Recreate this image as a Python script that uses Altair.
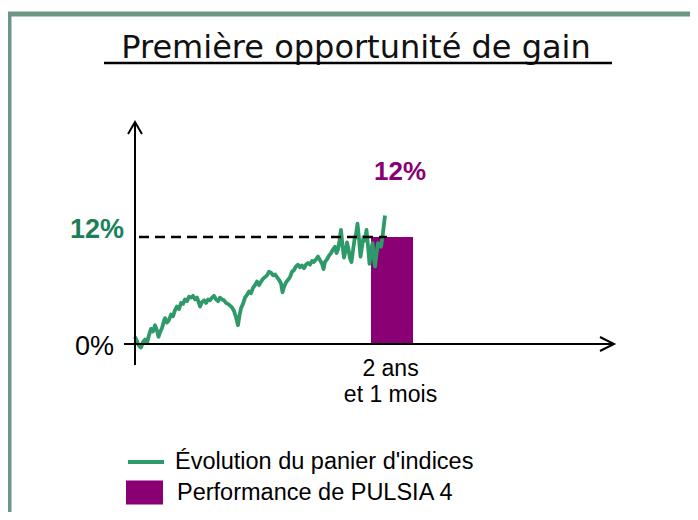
import altair as alt
import pandas as pd

# ---------------- data ----------------
title_text = "Première opportunité de gain"
series_name = "Évolution du panier d'indices"
bar_name = "Performance de PULSIA 4"

months = [0.0, 0.2, 0.4, 0.6, 0.8, 1.0, 1.2, 1.4, 1.6, 1.8, 2.0, 2.2, 2.35, 2.5, 2.7, 2.9,
          3.0, 3.2, 3.4, 3.6, 3.8, 4.0, 4.2, 4.4, 4.6, 4.8, 5.0, 5.2, 5.4, 5.6, 5.8, 6.0,
          6.2, 6.4, 6.5, 6.7, 6.9, 7.1, 7.3, 7.5, 7.7, 7.9, 8.1, 8.3, 8.5, 8.7, 8.9, 9.1,
          9.3, 9.5, 9.7, 9.9, 10.1, 10.3, 10.45, 10.6, 10.8, 11.0, 11.2, 11.4, 11.6, 11.8,
          12.0, 12.2, 12.4, 12.6, 12.8, 13.0, 13.2, 13.4, 13.6, 13.8, 14.0, 14.2, 14.4,
          14.6, 14.75, 14.9, 15.1, 15.3, 15.5, 15.7, 15.9, 16.1, 16.3, 16.5, 16.7, 16.9,
          17.1, 17.3, 17.5, 17.7, 17.9, 18.1, 18.3, 18.5, 18.7, 18.85, 19.0, 19.2, 19.4,
          19.6, 19.8, 20.0, 20.15, 20.3, 20.45, 20.6, 20.75, 20.9, 21.05, 21.2, 21.35,
          21.5, 21.65, 21.8, 21.95, 22.1, 22.25, 22.4, 22.55, 22.7, 22.85, 23.0, 23.15,
          23.3, 23.45, 23.6, 23.75, 23.9, 24.0, 24.15, 24.3, 24.45, 24.6, 24.75, 24.85, 25.0]
perf = [0.8, 0.3, -0.2, -0.4, 0.2, 0.5, 0.1, 1.0, 1.7, 1.4, 2.1, 1.5, 0.8, 1.3, 1.8, 2.6,
        2.9, 2.4, 2.7, 3.3, 3.1, 3.8, 4.2, 3.9, 4.6, 4.5, 5.0, 4.8, 5.3, 5.2, 5.4, 5.0,
        5.2, 4.6, 4.2, 4.7, 4.9, 4.6, 5.0, 4.9, 5.2, 5.4, 5.0, 4.8, 5.2, 5.0, 4.9, 4.6,
        4.5, 4.3, 4.1, 3.7, 3.0, 2.1, 3.2, 4.0, 4.5, 5.2, 5.5, 5.9, 5.7, 6.3,
        6.6, 7.0, 6.6, 7.0, 7.3, 7.5, 7.7, 8.1, 8.0, 7.7, 7.8, 7.5, 7.2,
        6.8, 5.8, 6.4, 6.9, 7.2, 7.5, 8.1, 8.3, 8.7, 8.9, 8.6, 8.8, 8.5,
        8.9, 9.1, 8.9, 9.3, 9.2, 9.5, 9.8, 9.4, 9.0, 8.4, 9.2, 9.5, 9.9,
        10.2, 10.6, 10.9, 10.2, 10.6, 11.6, 12.8, 11.0, 9.7, 10.4, 11.4, 10.6,
        9.6, 9.2, 10.5, 11.7, 12.3, 13.5, 11.8, 9.8, 10.9, 12.0, 11.6, 12.8,
        11.0, 9.0, 10.4, 11.3, 9.6, 8.7, 10.1, 11.3, 11.0, 10.9, 12.0, 13.0, 14.4]

bar_start = [23.6]
bar_end = [27.8]
bar_value = [12]
target_level = [12]
target_from = [0.4]
target_to = [25.2]
term_month = [25]
term_label = "2 ans\net 1 mois"
zero_label = "0%"
target_label = "12%"
perf_label = "12%"

# axis extents (months / percent)
x_axis_from, x_axis_to = [-1.1], [47.9]
y_axis_from, y_axis_to = [-2.36], [24.9]

# ---------------- styling ----------------
GREEN_LINE = "#2f9a69"
GREEN_TEXT = "#1b7f5a"
PURPLE = "#8a0074"
FRAME = "#6e9684"
FONT = "Liberation Sans"

W, H = 682, 504
xs = alt.Scale(domain=[-12.7, 55.5], nice=False, zero=False)
ys = alt.Scale(domain=[-18.841, 37.682], nice=False, zero=False)

one = pd.DataFrame({"k": [0]})
line_df = pd.DataFrame({"month": months, "perf": perf, "series": series_name})
bar_df = pd.DataFrame({"start": bar_start, "end": bar_end, "value": bar_value,
                       "base": [0], "kind": bar_name,
                       "mid": [(a + b) / 2 for a, b in zip(bar_start, bar_end)]})
target_df = pd.DataFrame({"from": target_from, "to": target_to, "level": target_level})
axes_df = pd.DataFrame({"x0": [0], "xa": x_axis_from, "xb": x_axis_to,
                        "y0": [0], "ya": y_axis_from, "yb": y_axis_to})
term_df = pd.DataFrame({"m": term_month, "base": [0]})

frame = alt.Chart(one).mark_rect(fillOpacity=0, stroke=FRAME, strokeWidth=5).encode(
    x=alt.value(1.0), x2=alt.value(760), y=alt.value(6), y2=alt.value(600))

title = alt.Chart(one).mark_text(text=title_text, font="DejaVu Sans", fontSize=32,
                                 align="center", baseline="alphabetic", color="#111111").encode(
    x=alt.value(348), y=alt.value(50))
underline = alt.Chart(one).mark_rule(strokeWidth=2.5, color="black").encode(
    x=alt.value(96), x2=alt.value(604), y=alt.value(55))

bar = alt.Chart(bar_df).mark_rect().encode(
    x=alt.X("start:Q", scale=xs, axis=None),
    x2="end:Q",
    y=alt.Y("base:Q", scale=ys, axis=None),
    y2="value:Q",
    fill=alt.Fill("kind:N", scale=alt.Scale(domain=[bar_name], range=[PURPLE]),
                  legend=alt.Legend(orient="none", legendX=118, legendY=466, title=None,
                                    symbolType="M-1,-0.65H1V0.65H-1Z", symbolSize=1369,
                                    symbolStrokeWidth=0, symbolOpacity=1,
                                    labelFont=FONT, labelFontSize=23.5, labelColor="black",
                                    labelLimit=500, labelOffset=14, padding=0)),
)

line = alt.Chart(line_df).mark_line(strokeWidth=3.8, strokeJoin="round").encode(
    x=alt.X("month:Q", scale=xs, axis=None),
    y=alt.Y("perf:Q", scale=ys, axis=None),
    stroke=alt.Stroke("series:N", scale=alt.Scale(domain=[series_name], range=[GREEN_LINE]),
                      legend=alt.Legend(orient="none", legendX=118, legendY=434, title=None,
                                        symbolType="stroke", symbolSize=1296,
                                        symbolStrokeWidth=4,
                                        labelFont=FONT, labelFontSize=23.5, labelColor="black",
                                        labelLimit=500, labelOffset=9, padding=0)),
)

target = alt.Chart(target_df).mark_rule(strokeWidth=2.5, color="black", strokeDash=[10, 6]).encode(
    x=alt.X("from:Q", scale=xs, axis=None),
    x2="to:Q",
    y=alt.Y("level:Q", scale=ys, axis=None),
)

yaxis = alt.Chart(axes_df).mark_rule(strokeWidth=2, color="black").encode(
    x=alt.X("x0:Q", scale=xs, axis=None),
    y=alt.Y("ya:Q", scale=ys, axis=None),
    y2="yb:Q",
)
xaxis = alt.Chart(axes_df).mark_rule(strokeWidth=2, color="black").encode(
    x=alt.X("xa:Q", scale=xs, axis=None),
    x2="xb:Q",
    y=alt.Y("y0:Q", scale=ys, axis=None),
)
yarrow = alt.Chart(axes_df).mark_point(shape="M-0.58,1L0,0L0.58,1", size=576, filled=False,
                                       color="black", strokeWidth=2, opacity=1).encode(
    x=alt.X("x0:Q", scale=xs, axis=None),
    y=alt.Y("yb:Q", scale=ys, axis=None),
)
xarrow = alt.Chart(axes_df).mark_point(shape="M-1,-0.5L0,0L-1,0.5", size=784, filled=False,
                                       color="black", strokeWidth=2, opacity=1).encode(
    x=alt.X("xb:Q", scale=xs, axis=None),
    y=alt.Y("y0:Q", scale=ys, axis=None),
)

zero_txt = alt.Chart(axes_df).mark_text(text=zero_label, font=FONT, fontSize=27, color="black",
                                        align="center", baseline="alphabetic", dy=11).encode(
    x=alt.value(86.5),
    y=alt.Y("y0:Q", scale=ys, axis=None),
)
target_txt = alt.Chart(target_df).mark_text(text=target_label, font=FONT, fontSize=27,
                                            fontWeight="bold", color=GREEN_TEXT,
                                            align="center", baseline="alphabetic", dy=1).encode(
    x=alt.value(89),
    y=alt.Y("level:Q", scale=ys, axis=None),
)
perf_txt = alt.Chart(bar_df).mark_text(
    text=perf_label, font=FONT, fontSize=26, fontWeight="bold", color=PURPLE,
    align="center", baseline="alphabetic", dx=8, dy=-57).encode(
    x=alt.X("mid:Q", scale=xs, axis=None),
    y=alt.Y("value:Q", scale=ys, axis=None),
)
term_txt = alt.Chart(term_df).mark_text(
    text=term_label, lineBreak="\n", lineHeight=26, font=FONT, fontSize=23, color="black",
    align="center", baseline="alphabetic", dx=5.5, dy=32).encode(
    x=alt.X("m:Q", scale=xs, axis=None),
    y=alt.Y("base:Q", scale=ys, axis=None),
)

chart = alt.layer(
    frame, title, underline, bar, line, target, yaxis, xaxis, yarrow, xarrow,
    zero_txt, target_txt, perf_txt, term_txt,
).properties(
    width=W, height=H, padding=0, autosize=alt.AutoSizeParams(type="none"),
    background="white",
).configure_view(strokeWidth=0)

chart.save("out.html", embed_options={"renderer": "svg", "actions": False})
